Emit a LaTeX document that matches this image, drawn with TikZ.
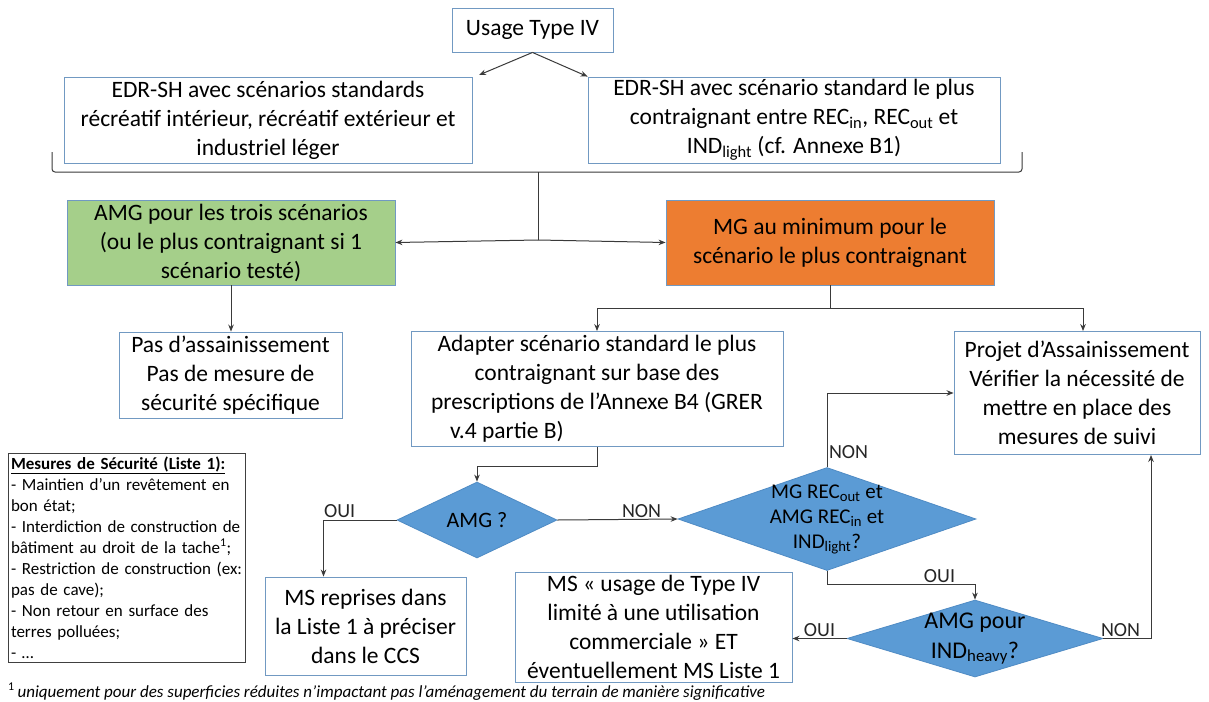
\documentclass[tikz,border=0pt]{standalone}
\usepackage{fontspec}
\setmainfont{Carlito}
\usetikzlibrary{shapes.geometric,arrows.meta}
\definecolor{boxline}{HTML}{7199C2}
\definecolor{greenfill}{HTML}{A5CF8A}
\definecolor{orangefill}{HTML}{ED7D31}
\definecolor{bluefill}{HTML}{5B9BD5}
\definecolor{diaedge}{HTML}{4F8BC4}
\definecolor{linegray}{HTML}{3A3A3A}
\begin{document}
\begin{tikzpicture}[x=1pt,y=-1pt,
    >={Stealth[length=7pt,width=5.5pt]},
    conn/.style={draw=linegray, line width=1pt},
    box/.style={draw=boxline, line width=0.9pt, fill=white, align=center, inner sep=1pt,
        font=\fontsize{23.5}{29}\selectfont},
    decision/.style={diamond, draw=diaedge, line width=0.8pt, fill=bluefill, inner sep=0pt},
    answer/.style={font=\fontsize{20}{22}\selectfont, inner sep=1.5pt, text=black!85}]
    \useasboundingbox[fill=white] (0,0) rectangle (1209,701);

    % top of the tree
    \node (usage) [box, minimum width=161pt, minimum height=44pt] at (532.5,30) {Usage Type IV};
    \node (edrl) [box, minimum width=408pt, minimum height=86pt] at (268,120)
        {EDR-SH avec scénarios standards\\récréatif intérieur, récréatif extérieur et\\industriel léger};
    \node (edrr) [box, minimum width=412pt, minimum height=86pt] at (794,120)
        {EDR-SH avec scénario standard le plus\\contraignant entre REC\textsubscript{in}, REC\textsubscript{out} et\\IND\textsubscript{light} (cf. Annexe B1)};
    \coordinate (tipl) at (479,75);
    \draw[conn,->] (usage.south) -- (tipl);
    \draw[conn,->] (usage.south) -- (edrr.north west);

    % bracket joining both EDR-SH
    \draw[conn, rounded corners=3pt] (52,152) -- (52,172) -- (1022,172) -- (1022,152);
    \coordinate (merge) at (538,172);
    \coordinate (split) at (538,240);

    \node (amg) [box, fill=greenfill, minimum width=328pt, minimum height=85pt] at (231,242.5)
        {AMG pour les trois scénarios\\(ou le plus contraignant si 1\\scénario testé)};
    \node (mg) [box, fill=orangefill, minimum width=328pt, minimum height=85pt] at (830,242.5)
        {MG au minimum pour le\\scénario le plus contraignant};
    \draw[conn] (merge) -- (split);
    \draw[conn,->] (split) -- (amg.east);
    \draw[conn,->] (split) -- (mg.west);

    \node (pas) [box, minimum width=223pt, minimum height=86pt] at (230.5,375)
        {Pas d’assainissement\\Pas de mesure de\\sécurité spécifique};
    \draw[conn,->] (amg.south) -- (amg.south |- pas.north);

    \node (adapt) [box, minimum width=372pt, minimum height=115pt] at (597,389)
        {Adapter scénario standard le plus\\contraignant sur base des\\prescriptions de l’Annexe B4 (GRER\\v.4 partie B)\hspace*{180pt}};
    \node (projet) [box, minimum width=246pt, minimum height=123pt] at (1077,393)
        {Projet d’Assainissement\\Vérifier la nécessité de\\mettre en place des\\mesures de suivi};
    \draw[conn,->] (mg.south) -- ++(0,23) -| (adapt.north);
    \draw[conn,->] (mg.south) -- ++(0,23) -| ([xshift=6pt]projet.north);

    % safety measures list
    \node (mesures) [draw=black!75, line width=1pt, align=left, text width=231pt, inner xsep=3pt, inner ysep=2pt,
        minimum height=209pt, font=\fontsize{17}{21}\selectfont] at (126.5,557.5)
        {\underline{\textbf{Mesures de Sécurité (Liste 1):}}\\- Maintien d’un revêtement en\\bon état;\\- Interdiction de construction de\\bâtiment au droit de la tache\textsuperscript{1};\\- Restriction de construction (ex:\\pas de cave);\\- Non retour en surface des\\terres polluées;\\- …};

    % decisions
    \node (amgq) [decision, minimum width=160pt, minimum height=76pt,
        label={[font=\fontsize{22}{26}\selectfont]center:AMG ?}] at (477,520) {};
    \draw[conn,->] (adapt.south) -- ++(0,20) -| (amgq.north);

    \node (msrep) [box, minimum width=201pt, minimum height=98pt] at (365.5,626)
        {MS reprises dans\\la Liste 1 à préciser\\dans le CCS};
    \draw[conn,->] (amgq.west) -| node[answer, above, pos=0.39] {OUI} ([xshift=-42pt]msrep.north);

    \node (mgq) [decision, minimum width=298pt, minimum height=103pt,
        label={[align=center, font=\fontsize{21}{25}\selectfont]center:MG REC\textsubscript{out} et\\AMG REC\textsubscript{in} et\\IND\textsubscript{light}?}] at (827,519) {};
    \draw[conn,->] (amgq.east) -- node[answer, above, pos=0.7] {NON} (mgq.west);
    \draw[conn,->] (mgq.north) |- node[answer, right, pos=0.1] {NON} (projet.west);

    \node (amgh) [decision, minimum width=256pt, minimum height=77pt,
        label={[align=center, font=\fontsize{24}{30}\selectfont]center:AMG pour\\IND\textsubscript{heavy}?}] at (975,638.5) {};
    \draw[conn,->] (mgq.south) |- node[answer, above, pos=0.88] {OUI} ([yshift=15pt]amgh.north) -- (amgh.north);

    \node (mscom) [box, minimum width=277pt, minimum height=110pt] at (653.5,627)
        {MS « usage de Type IV\\limité à une utilisation\\commerciale » ET\\éventuellement MS Liste 1};
    \draw[conn,->] (amgh.west) -- node[answer, above] {OUI} (amgh.west -| mscom.east);
    \draw[conn,->] (amgh.east) -| node[answer, above, pos=0.18] {NON} ([xshift=74pt]projet.south);

    % footnote
    \node (note) [anchor=base west, inner sep=0pt, font=\fontsize{17}{20}\selectfont\itshape] at (8,697)
        {{\upshape\textsuperscript{1}}\,uniquement pour des superficies réduites n’impactant pas l’aménagement du terrain de manière significative};
\end{tikzpicture}
\end{document}
